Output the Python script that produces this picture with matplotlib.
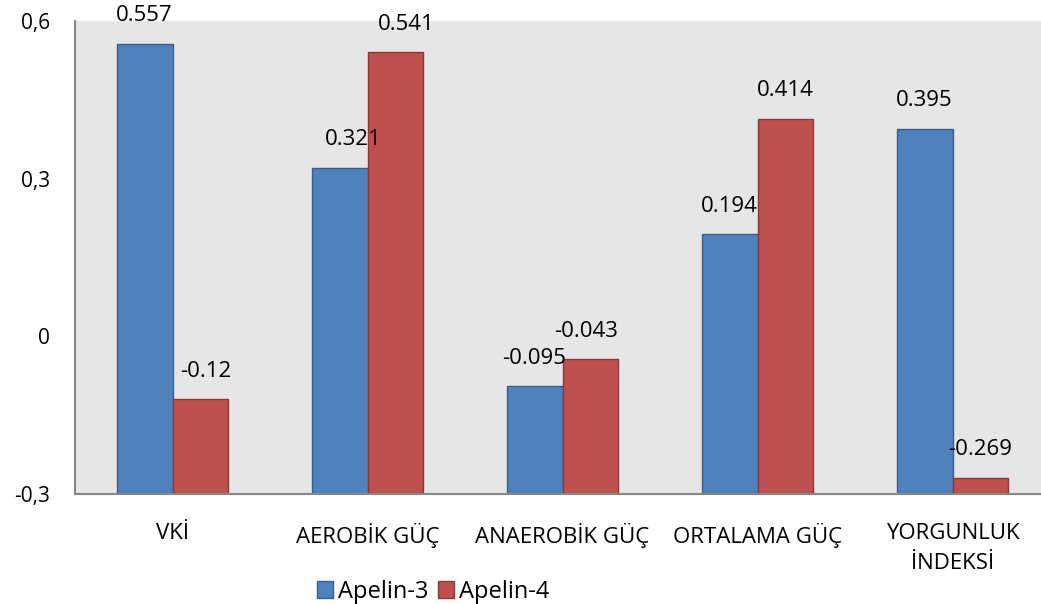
import matplotlib.pyplot as plt
import numpy as np

plt.rcParams['font.family'] = ['Open Sans', 'DejaVu Sans']

# ================= 数据 =================
categories = ['VKİ', 'AEROBİK GÜÇ', 'ANAEROBİK GÜÇ', 'ORTALAMA GÜÇ', 'YORGUNLUK\nİNDEKSİ']
apelin3 = [0.557, 0.321, -0.095, 0.194, 0.395]
apelin4 = [-0.12, 0.541, -0.043, 0.414, -0.269]
series_names = ['Apelin-3', 'Apelin-4']
y_ticks = [-0.3, 0, 0.3, 0.6]
y_tick_labels = ['-0,3', '0', '0,3', '0,6']

# 标签的横向微调（像素）
dx3 = [0, 14, 0, 0, 0]
dx4 = [5, 11, -4, 0, 0]

base = -0.3
fig = plt.figure(figsize=(10.41, 6.04), dpi=100)
ax = fig.add_axes([75 / 1041, 1 - 494 / 604, 975 / 1041, 473 / 604])
ax.set_facecolor('#e6e6e6')

x = np.arange(len(categories))
w = 0.287
b3 = ax.bar(x - w / 2, np.array(apelin3) - base, w, bottom=base, color='#4f81bd',
            edgecolor='#385d8a', linewidth=1, label=series_names[0])
b4 = ax.bar(x + w / 2, np.array(apelin4) - base, w, bottom=base, color='#c0504d',
            edgecolor='#8c3836', linewidth=1, label=series_names[1])

for bars, vals, dxs in [(b3, apelin3, dx3), (b4, apelin4, dx4)]:
    for bar, v, d in zip(bars, vals, dxs):
        ax.annotate(f'{v:g}', (bar.get_x() + bar.get_width() / 2, v),
                    xytext=(d * 0.72, 20), textcoords='offset points',
                    ha='center', va='center', fontsize=16)

ax.set_xlim(-0.5, len(categories) - 0.5)
ax.set_ylim(-0.3, 0.6)
ax.set_yticks(y_ticks)
ax.set_yticklabels(y_tick_labels, fontsize=15)
ax.set_xticks(x)
ax.set_xticklabels(categories, fontsize=16, linespacing=1.55, va='top')
ax.tick_params(axis='y', length=0, pad=18)
ax.tick_params(axis='x', length=0, pad=21)

for s in ['top', 'right']:
    ax.spines[s].set_visible(False)
for s in ['left', 'bottom']:
    ax.spines[s].set_color('#868686')
    ax.spines[s].set_linewidth(1.5)

fig.legend(handles=[b3, b4], loc='center', bbox_to_anchor=(433 / 1041, 1 - 592 / 604),
           ncol=2, frameon=False, fontsize=17, handlelength=0.7, handleheight=0.7,
           handletextpad=0.2, columnspacing=0.4, borderpad=0)

plt.savefig('out.png', dpi=100)
